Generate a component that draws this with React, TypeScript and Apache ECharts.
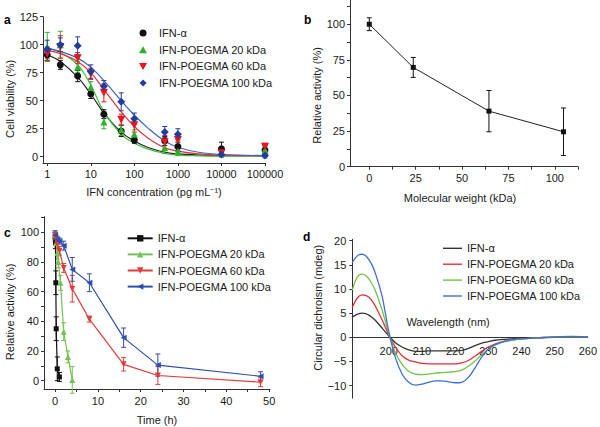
import React, { useEffect, useRef } from 'react';
import * as echarts from 'echarts';

const FONT = '"Liberation Sans", Arial, Helvetica, sans-serif';

// ---------- Panel a : cell viability ----------
const concentrations = [1, 2, 5, 10, 20, 50, 100, 500, 1000, 10000, 100000];
const viabIFN = [91, 82, 72, 56, 38, 23, 15, 14, 9, 7, 6];
const viabIFNErr = [5, 4, 5, 4, 4, 5, 3, 4, 4, 6, 4];
const viab20 = [98, 100, 80, 62, 31, 24, 20, 8, 5, 3, 6];
const viab20Err = [13, 12, 5, 5, 6, 5, 4, 5, 4, 3, 3];
const viab60 = [92, 98, 88, 74, 57, 33, 28, 13, 15, 3, 9];
const viab60Err = [6, 10, 5, 5, 8, 5, 6, 6, 5, 3, 3];
const viab100 = [96, 100, 99, 76, 63, 49, 34, 22, 20, 2, 1];
const viab100Err = [8, 6, 8, 6, 5, 8, 5, 5, 5, 2, 2];
const fitConc = [1, 2, 5, 10, 20, 50, 100, 200, 500, 1000, 3000, 10000, 100000];
const fitIFN = [91, 85, 71, 56, 39, 22, 14, 8.5, 4, 2.5, 1.5, 1, 1];
const fit20 = [97, 93, 82, 64, 40, 20, 12, 7, 3, 1.5, 0.8, 0.5, 0.5];
const fit60 = [95, 92, 85, 75, 60, 40, 27, 17, 8, 5, 2.5, 1.5, 1];
const fit100 = [97, 94, 88, 80, 68, 50, 37, 26, 14, 8.5, 4, 2, 1];

// ---------- Panel b : relative activity vs MW ----------
const molecularWeight = [0, 23.7, 64.5, 104.7];
const activityMW = [100, 69.7, 39, 24.5];
const activityMWErr = [4.5, 7, 14.5, 16.7];

// ---------- Panel c : relative activity vs time ----------
const timeIFN = [0, 0.083, 0.167, 0.25, 0.5, 1];
const actIFN = [97, 93, 66, 35, 8, 2.5];
const actIFNErr = [3, 4, 8, 8, 8, 3];
const time20 = [0, 0.25, 0.5, 0.75, 1.25, 2, 3, 4];
const act20 = [98, 93, 86, 80, 66, 33, 16, 0.5];
const act20Err = [3, 3, 4, 4, 5, 6, 4, 9];
const time60 = [0, 0.25, 0.5, 1, 2, 4, 8, 16, 24, 48];
const act60 = [98, 95, 92, 87.5, 76, 62, 41.5, 11, 3.5, -1];
const act60Err = [2, 3, 3, 3, 3, 9, 2, 4.5, 6, 3];
const time100 = [0, 0.5, 1, 2, 4, 8, 16, 24, 48];
const act100 = [98, 95, 94, 91, 75, 66, 29, 10.5, 3];
const act100Err = [3, 2, 2, 3, 8, 6, 6.5, 7.5, 3];

// ---------- Panel d : circular dichroism ----------
const wavelength = [189, 190, 191, 192, 193, 194, 195, 196, 198, 200, 202, 204, 206, 208, 210, 212, 214, 216, 218, 220, 222, 224, 226, 228, 230, 232, 235, 238, 240, 245, 250, 255, 260];
const cdIFN = [4.2, 4.6, 4.9, 5.0, 4.9, 4.6, 4.1, 3.5, 1.9, 0.3, -1.1, -2.0, -2.6, -2.9, -2.9, -2.8, -2.8, -2.8, -2.8, -2.8, -2.7, -2.3, -1.7, -1.2, -0.9, -0.6, -0.4, -0.25, -0.2, -0.1, 0, 0.1, 0.1];
const cd20 = [6.2, 7.6, 8.5, 8.8, 8.7, 8.3, 7.5, 6.4, 3.6, 0.5, -2.0, -3.8, -4.7, -5.1, -5.4, -5.5, -5.5, -5.5, -5.5, -5.5, -5.3, -4.8, -3.9, -2.9, -2.0, -1.4, -0.8, -0.45, -0.3, -0.1, 0.1, 0.15, 0.1];
const cd60 = [9.8, 11.8, 12.9, 13.1, 12.8, 12.1, 11.0, 9.6, 5.6, 0.8, -3.2, -5.6, -7.0, -7.6, -7.7, -7.6, -7.4, -7.3, -7.2, -7.1, -6.8, -6.0, -4.9, -3.6, -2.5, -1.6, -0.9, -0.5, -0.3, -0.1, 0.1, 0.1, 0.1];
const cd100 = [15.5, 16.5, 17.1, 17.2, 16.9, 16.1, 14.9, 13.2, 8.5, 1.2, -4.2, -7.6, -9.3, -9.9, -9.7, -9.3, -9.0, -9.0, -9.2, -9.4, -9.3, -8.3, -6.3, -4.1, -2.4, -1.5, -0.8, -0.4, -0.3, -0.1, 0.1, 0.2, 0.1];

const legendNames = ['IFN-α', 'IFN-POEGMA 20 kDa', 'IFN-POEGMA 60 kDa', 'IFN-POEGMA 100 kDa'];

const zip = (xs: number[], ys: number[]) => xs.map((x, i) => [x, ys[i]]);
const zip3 = (xs: number[], ys: number[], es: number[]) => xs.map((x, i) => [x, ys[i], es[i]]);

const TXT = '#1a1a1a';

function errorSeries(data: number[][], color: string, gridIdx: number, cap = 2.5, width = 1) {
  return {
    type: 'custom',
    xAxisIndex: gridIdx,
    yAxisIndex: gridIdx,
    data,
    encode: { x: 0, y: 1 },
    z: 3,
    silent: true,
    renderItem: (params: any, api: any) => {
      const x = api.value(0);
      const y = api.value(1);
      const e = api.value(2);
      const top = api.coord([x, y + e]);
      const bot = api.coord([x, y - e]);
      const style = { stroke: color, lineWidth: width };
      return {
        type: 'group',
        children: [
          { type: 'line', shape: { x1: top[0], y1: top[1], x2: bot[0], y2: bot[1] }, style },
          { type: 'line', shape: { x1: top[0] - cap, y1: top[1], x2: top[0] + cap, y2: top[1] }, style },
          { type: 'line', shape: { x1: bot[0] - cap, y1: bot[1], x2: bot[0] + cap, y2: bot[1] }, style },
        ],
      };
    },
  };
}

const axisCommon = {
  axisLine: { show: true, onZero: false, lineStyle: { color: '#333', width: 1 } },
  axisTick: { show: true, length: 3, lineStyle: { color: '#333', width: 1 } },
  splitLine: { show: false },
  nameTextStyle: { fontFamily: FONT, fontSize: 11, color: TXT },
  nameLocation: 'middle',
};

function labels(values: number[], margin: number, formatter?: (v: number) => string) {
  return {
    customValues: values,
    margin,
    fontFamily: FONT,
    fontSize: 11,
    color: TXT,
    formatter: formatter || ((v: number) => String(v)),
  };
}

const CIRCLE = 'path://M0,5A5,5,0,1,0,10,5A5,5,0,1,0,0,5Z';
const TRIANGLE = 'path://M5,0L10,8.66L0,8.66Z';
const INV_TRIANGLE = 'path://M0,0L10,0L5,8.66Z';
const DIAMOND = 'path://M5,0L10,5L5,10L0,5Z';

export default function App() {
  const ref = useRef<HTMLDivElement>(null);
  useEffect(() => {
    if (!ref.current) return;
    const chart = echarts.init(ref.current, undefined, { renderer: 'svg' });

    const colA = ['#111111', '#2fb12f', '#e8161d', '#1f3f9f'];
    const fitColA = ['#222222', '#3cbf3c', '#e8343a', '#3f63c8'];
    const colC = ['#111111', '#74c255', '#e23a3a', '#2f4fb0'];
    const colD = ['#333333', '#ee2a36', '#73c24a', '#3d70d6'];

    const viab = [viabIFN, viab20, viab60, viab100];
    const viabErr = [viabIFNErr, viab20Err, viab60Err, viab100Err];
    const fits = [fitIFN, fit20, fit60, fit100];
    const symA = ['circle', 'triangle', INV_TRIANGLE, 'diamond'];
    const legendIconA = [CIRCLE, TRIANGLE, INV_TRIANGLE, DIAMOND];
    const sizeA = [7, 7, 8, 8];

    const tTimes = [timeIFN, time20, time60, time100];
    const tAct = [actIFN, act20, act60, act100];
    const tErr = [actIFNErr, act20Err, act60Err, act100Err];
    const symC = ['rect', 'triangle', 'triangle', 'triangle'];
    const rotC = [0, 0, 180, 90];
    const sizeC = [5, 6, 6, 6];

    const cds = [cdIFN, cd20, cd60, cd100];

    const series: any[] = [];
    // panel a
    fits.forEach((f, i) => {
      series.push({
        type: 'line', name: 'fit' + i, xAxisIndex: 0, yAxisIndex: 0,
        data: zip(fitConc, f), smooth: 0.4, symbol: 'none', z: 2,
        lineStyle: { color: fitColA[i], width: 1.2 },
      });
    });
    viab.forEach((v, i) => {
      series.push(errorSeries(zip3(concentrations, v, viabErr[i]), colA[i], 0, 2.5, 1));
    });
    viab.forEach((v, i) => {
      series.push({
        type: 'scatter', name: legendNames[i] + '#a', xAxisIndex: 0, yAxisIndex: 0,
        data: zip(concentrations, v), symbol: symA[i], symbolSize: sizeA[i], z: 4,
        itemStyle: { color: colA[i], opacity: 1 },
      });
    });
    // panel b
    series.push(errorSeries(zip3(molecularWeight, activityMW, activityMWErr), '#111', 1, 2.5, 1));
    series.push({
      type: 'line', name: 'mw', xAxisIndex: 1, yAxisIndex: 1,
      data: zip(molecularWeight, activityMW), symbol: 'rect', symbolSize: 5, z: 4,
      lineStyle: { color: '#222', width: 1 }, itemStyle: { color: '#111' },
    });
    // panel c
    tAct.forEach((a, i) => {
      series.push(errorSeries(zip3(tTimes[i], a, tErr[i]), colC[i], 2, 2.5, 1));
    });
    tAct.forEach((a, i) => {
      series.push({
        type: 'line', name: legendNames[i] + '#c', xAxisIndex: 2, yAxisIndex: 2,
        data: zip(tTimes[i], a), symbol: symC[i], symbolRotate: rotC[i], symbolSize: sizeC[i], z: 4,
        lineStyle: { color: colC[i], width: 1.2 }, itemStyle: { color: colC[i] },
      });
    });
    // panel d
    cds.forEach((c, i) => {
      series.push({
        type: 'line', name: legendNames[i] + '#d', xAxisIndex: 3, yAxisIndex: 3,
        data: zip(wavelength, c), symbol: 'none', smooth: 0.3, z: 4,
        lineStyle: { color: colD[i], width: 1.3 }, itemStyle: { color: colD[i] },
      });
    });

    const legendBase = {
      orient: 'vertical',
      selectedMode: false,
      itemHeight: 8,
      textStyle: { fontFamily: FONT, fontSize: 11, color: TXT, lineHeight: 12 },
      formatter: (name: string) => name.split('#')[0],
    };

    const minus = (v: number) => (v < 0 ? '\u2212' + Math.abs(v) : String(v));

    const option: any = {
      animation: false,
      backgroundColor: '#ffffff',
      textStyle: { fontFamily: FONT },
      grid: [
        { left: 43, top: 16.7, width: 222, height: 146.3 },
        { left: 350, top: 0, width: 228, height: 166.7 },
        { left: 44, top: 216.7, width: 226, height: 172.3 },
        { left: 352.3, top: 239.3, width: 237.5, height: 158.9 },
      ],
      xAxis: [
        {
          ...axisCommon, type: 'log', logBase: 10, gridIndex: 0, min: 0.8, max: 100000,
          axisTick: { ...axisCommon.axisTick, customValues: [1, 10, 100, 1000, 10000, 100000] },
          minorTick: { show: false },
          axisLabel: labels([1, 10, 100, 1000, 10000, 100000], 5),
          name: 'IFN concentration (pg mL⁻¹)', nameGap: 23,
        },
        {
          ...axisCommon, type: 'value', gridIndex: 1, min: -10.4, max: 112.5,
          axisTick: { ...axisCommon.axisTick, customValues: [0, 12.5, 25, 37.5, 50, 62.5, 75, 87.5, 100, 112.5] },
          axisLabel: labels([0, 25, 50, 75, 100], 6),
          name: 'Molecular weight (kDa)', nameGap: 26, nameTextStyle: { ...axisCommon.nameTextStyle, padding: [0, 8, 0, 0] },
        },
        {
          ...axisCommon, type: 'value', gridIndex: 2, min: -2.6, max: 50.2,
          axisTick: { ...axisCommon.axisTick, customValues: [0, 5, 10, 15, 20, 25, 30, 35, 40, 45, 50] },
          axisLabel: labels([0, 10, 20, 30, 40, 50], 6),
          name: 'Time (h)', nameGap: 25,
        },
        {
          ...axisCommon, type: 'value', gridIndex: 3, min: 189, max: 260,
          offset: -60.9,
          axisTick: { ...axisCommon.axisTick, show: false },
          axisLabel: labels([200, 210, 220, 230, 240, 250, 260], 8),
          name: 'Wavelength (nm)', nameGap: -21,
          nameTextStyle: { ...axisCommon.nameTextStyle, padding: [0, 44, 0, 0] },
        },
      ],
      yAxis: [
        {
          ...axisCommon, type: 'value', gridIndex: 0, min: -5.6, max: 125,
          axisTick: { ...axisCommon.axisTick, customValues: [0, 25, 50, 75, 100, 125] },
          axisLabel: labels([0, 25, 50, 75, 100, 125], 5),
          name: 'Cell viability (%)', nameGap: 26,
          nameTextStyle: { ...axisCommon.nameTextStyle, padding: [0, 18, 0, 0] },
        },
        {
          ...axisCommon, type: 'value', gridIndex: 1, min: 0, max: 117,
          axisTick: { ...axisCommon.axisTick, customValues: [0, 12.5, 25, 37.5, 50, 62.5, 75, 87.5, 100, 112.5] },
          axisLabel: labels([0, 25, 50, 75, 100], 5),
          name: 'Relative activity (%)', nameGap: 28,
          nameTextStyle: { ...axisCommon.nameTextStyle, padding: [0, 24, 0, 0] },
        },
        {
          ...axisCommon, type: 'value', gridIndex: 2, min: -5.6, max: 110.5,
          axisTick: { ...axisCommon.axisTick, customValues: [0, 10, 20, 30, 40, 50, 60, 70, 80, 90, 100, 110] },
          axisLabel: labels([0, 20, 40, 60, 80, 100], 5),
          name: 'Relative activity (%)', nameGap: 29,
          nameTextStyle: { ...axisCommon.nameTextStyle, padding: [0, 18, 0, 0] },
        },
        {
          ...axisCommon, type: 'value', gridIndex: 3, min: -12.6, max: 20.3,
          axisTick: { ...axisCommon.axisTick, customValues: [-10, -5, 0, 5, 10, 15, 20] },
          axisLabel: labels([-10, -5, 0, 5, 10, 15, 20], 6, minus),
          name: 'Circular dichroism (mdeg)', nameGap: 26,
          nameTextStyle: { ...axisCommon.nameTextStyle, padding: [0, 0, 0, 22] },
        },
      ],
      legend: [
        {
          ...legendBase, left: 134, top: 22, itemWidth: 22, itemHeight: 7, itemGap: 4.7,
          data: legendNames.map((n, i) => ({ name: n + '#a', icon: legendIconA[i] })),
        },
        {
          ...legendBase, left: 121.7, top: 227.3, itemWidth: 25, itemGap: 4.1,
          data: legendNames.map((n) => n + '#c'),
        },
        {
          ...legendBase, left: 438, top: 237.3, itemWidth: 19, itemHeight: 1.4, itemGap: 3.9,
          data: legendNames.map((n) => ({ name: n + '#d', icon: 'rect' })),
        },
      ],
      graphic: [
        { type: 'text', left: 4, top: 14, style: { text: 'a', font: `bold 12px ${FONT}`, fill: '#000' } },
        { type: 'text', left: 304, top: 14, style: { text: 'b', font: `bold 12px ${FONT}`, fill: '#000' } },
        { type: 'text', left: 4, top: 227, style: { text: 'c', font: `bold 12px ${FONT}`, fill: '#000' } },
        { type: 'text', left: 303, top: 231, style: { text: 'd', font: `bold 12px ${FONT}`, fill: '#000' } },
      ],
      series,
    };
    chart.setOption(option);
    return () => chart.dispose();
  }, []);
  return <div ref={ref} style={{ position: 'fixed', left: 0, top: 0, width: 600, height: 427, background: '#fff' }} />;
}
